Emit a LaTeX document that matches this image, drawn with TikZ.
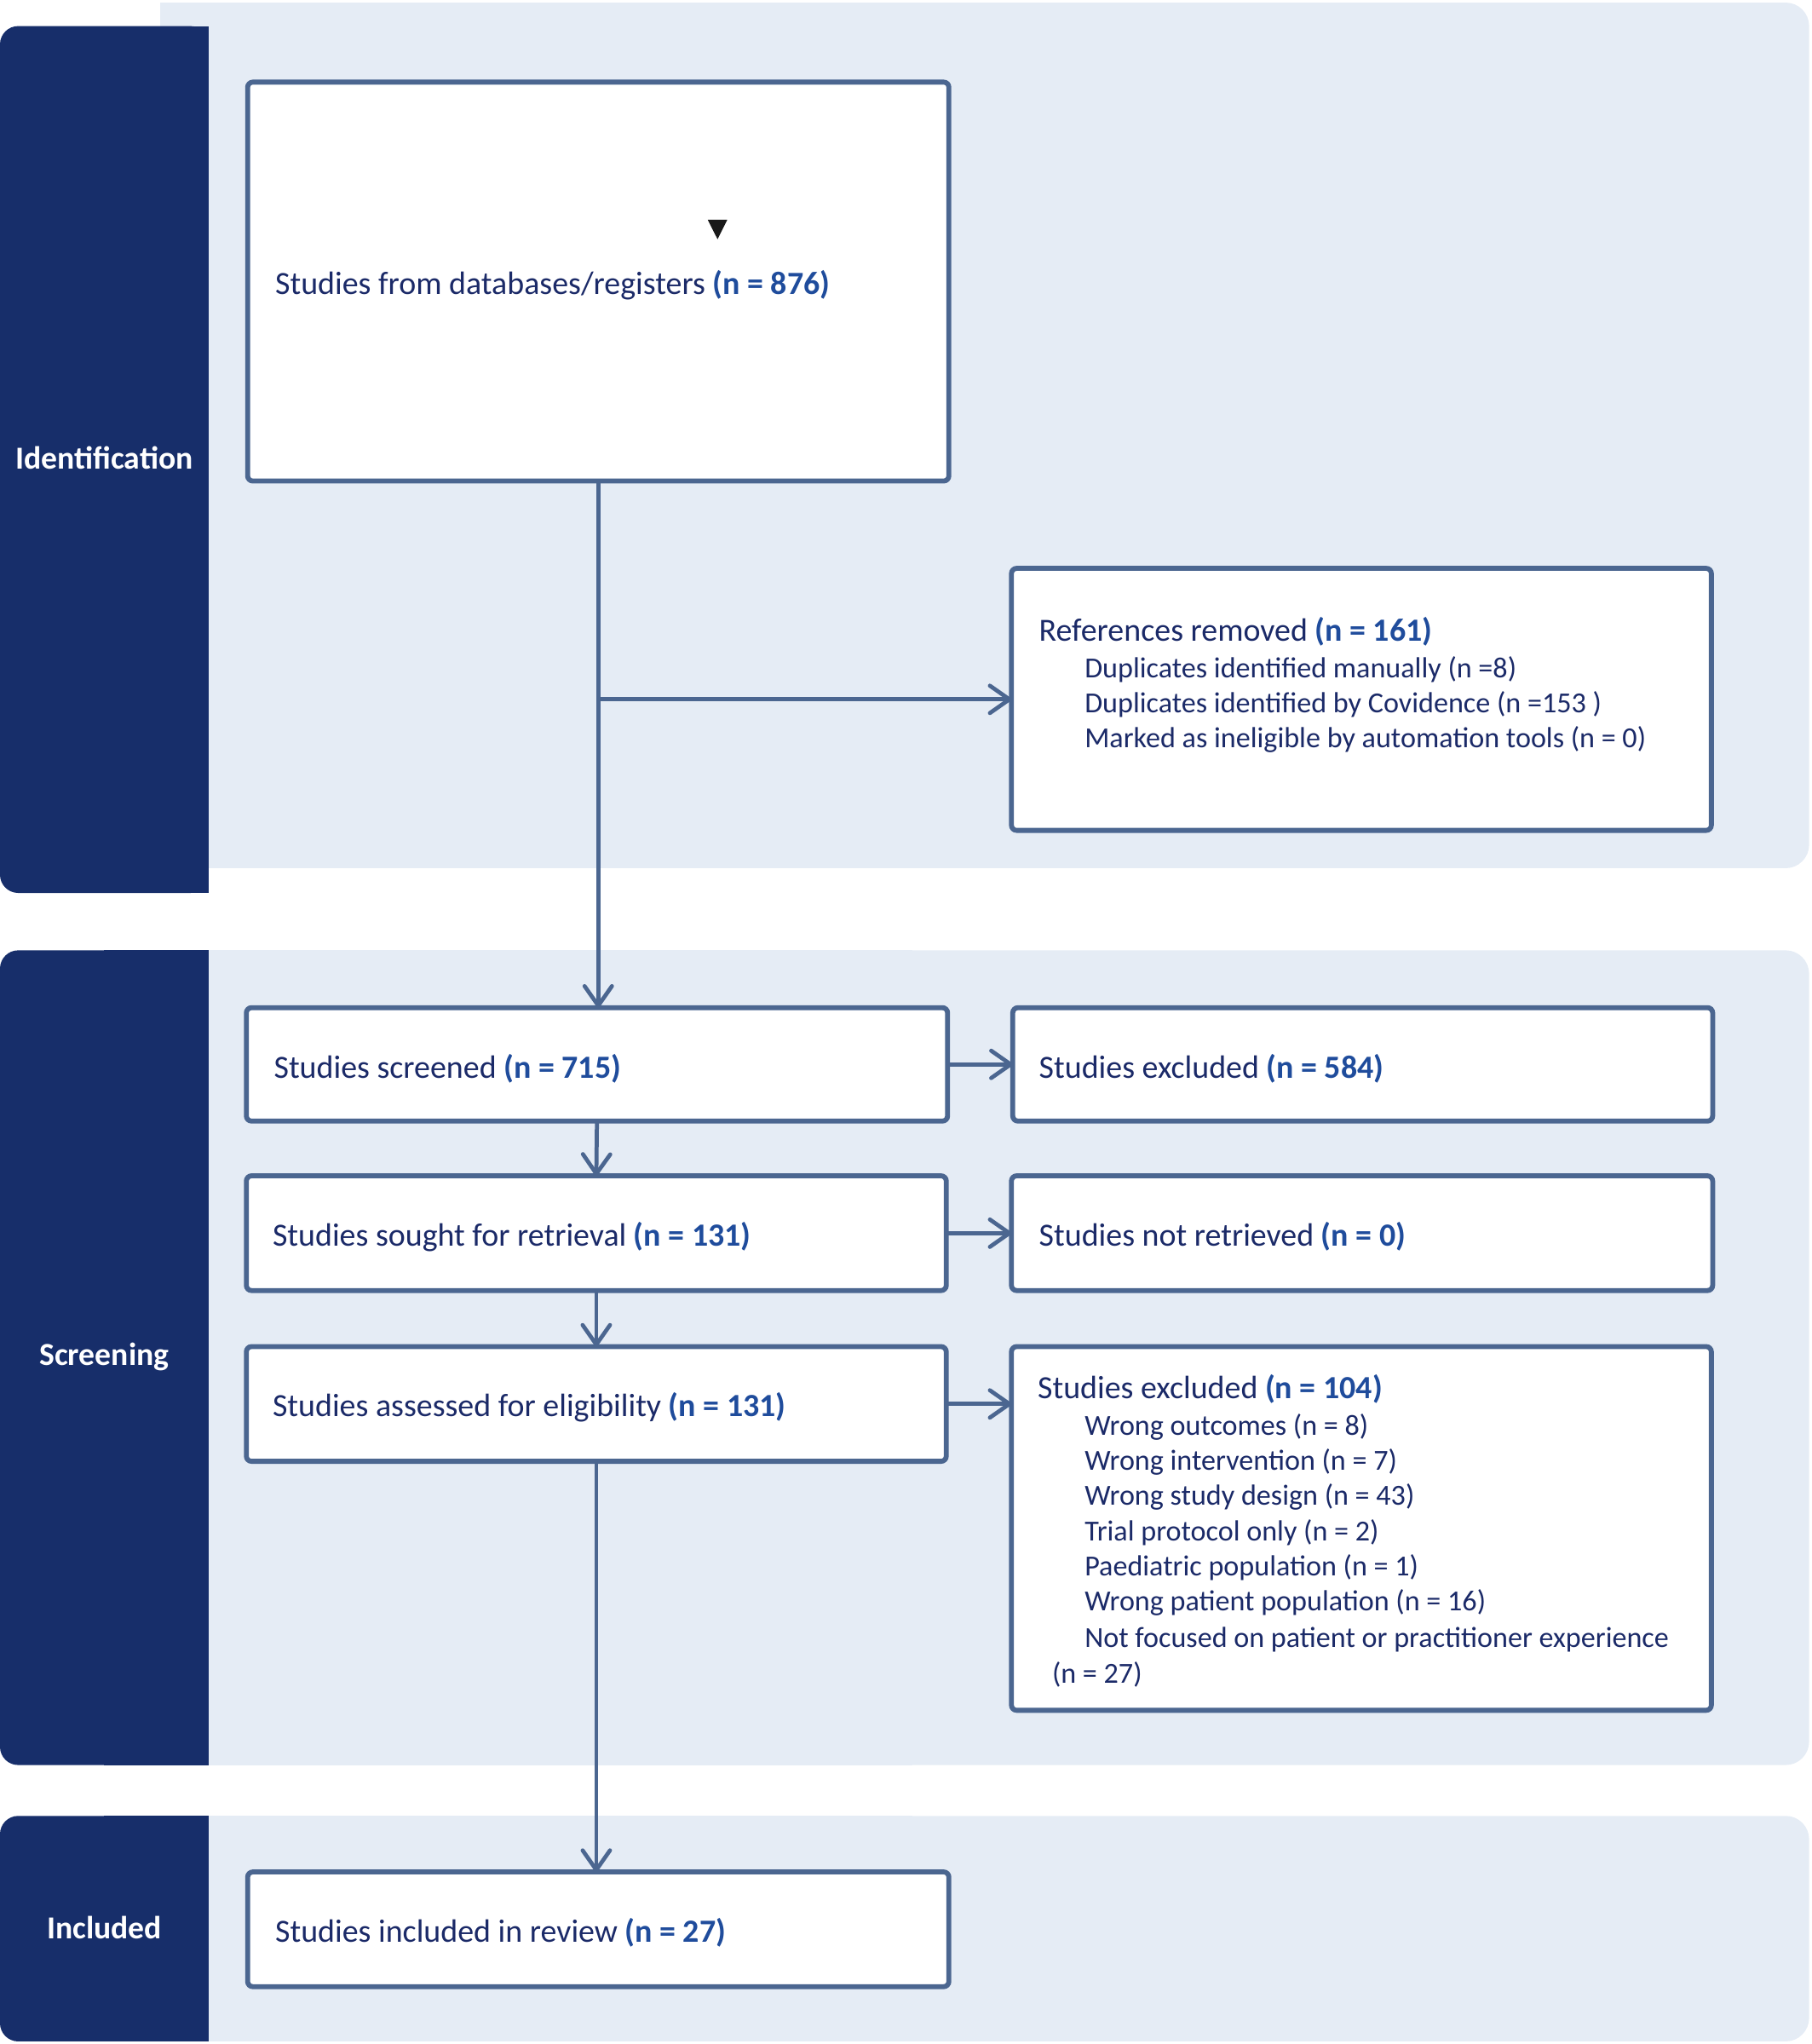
\documentclass[tikz,border=0pt]{standalone}
\usepackage{fontspec}
\setmainfont{Carlito}
\usetikzlibrary{arrows.meta}
\definecolor{navy}{HTML}{172E6A}
\definecolor{bandbg}{HTML}{E5ECF5}
\definecolor{edgec}{HTML}{4B6690}
\definecolor{txtc}{HTML}{1B2A68}
\definecolor{numc}{HTML}{1F4C9C}
\newcommand{\numtxt}[1]{\textbf{\textcolor{numc}{#1}}}
\begin{document}
\begin{tikzpicture}[x=1pt,y=-1pt,
  flowbox/.style={draw=edgec, line width=3.8pt, fill=white, rounded corners=4pt, inner sep=0pt, outer sep=0pt, anchor=north west},
  txt/.style={text=txtc, font=\fontsize{24.8}{29.5}\selectfont, inner sep=0pt, anchor=west, yshift=-1.5pt},
  subtxt/.style={txt, font=\fontsize{22.3}{27}\selectfont},
  sidelab/.style={text=white, font=\fontsize{24.6}{29.5}\selectfont\bfseries, inner sep=0pt},
  arr/.style={draw=edgec, line width=3.1pt, -{Straight Barb[length=15pt,width=21pt,round]}},
  ]
\useasboundingbox (0,0) rectangle (1390,1568);
% bands
\fill[bandbg, rounded corners=18pt] (123,2) rectangle (1388,666);
\fill[bandbg] (123,2) rectangle (700,666);
\fill[navy, rounded corners=14pt] (0,20) rectangle (160,685);
\fill[navy] (80,20) rectangle (160,685);

\fill[bandbg, rounded corners=18pt] (160,729) rectangle (1388,1354);
\fill[bandbg] (160,729) rectangle (700,1354);
\fill[navy, rounded corners=14pt] (0,729) rectangle (160,1354);
\fill[navy] (80,729) rectangle (160,1354);

\fill[bandbg, rounded corners=18pt] (160,1393) rectangle (1388,1566);
\fill[bandbg] (160,1393) rectangle (700,1566);
\fill[navy, rounded corners=14pt] (0,1393) rectangle (160,1566);
\fill[navy] (80,1393) rectangle (160,1566);

\node[sidelab] (lid) at (80,351) {Identification};
\node[sidelab] (lsc) at (80,1041) {Screening};
\node[sidelab] (lin) at (80,1479) {Included};

% boxes
\node[flowbox, minimum width=538pt, minimum height=306pt] (A) at (190,63) {};
\node[flowbox, minimum width=537pt, minimum height=201pt] (B) at (776,436) {};
\node[flowbox, minimum width=538pt, minimum height=87pt] (C) at (189,773) {};
\node[flowbox, minimum width=537pt, minimum height=87pt] (D) at (777,773) {};
\node[flowbox, minimum width=537pt, minimum height=88pt] (E) at (189,902) {};
\node[flowbox, minimum width=538pt, minimum height=88pt] (F) at (776,902) {};
\node[flowbox, minimum width=537pt, minimum height=88pt] (G) at (189,1033) {};
\node[flowbox, minimum width=537pt, minimum height=279pt] (H) at (776,1033) {};
\node[flowbox, minimum width=538pt, minimum height=88pt] (I) at (190,1436) {};

% small marker triangle
\fill[black!90] (543,168.6) -- (558,168.6) -- (550.5,183.5) -- cycle;

% texts
\node[txt] (At) at (211,217) {Studies from databases/registers \numtxt{(n = 876)}};
\node[txt] (B1) at (797,483) {References removed \numtxt{(n = 161)}};
\node[subtxt] (B2) at (832,512) {Duplicates identified manually (n =8)};
\node[subtxt] (B3) at (832,539) {Duplicates identified by Covidence (n =153 )};
\node[subtxt] (B4) at (832,566) {Marked as ineligible by automation tools (n = 0)};
\node[txt] (Ct) at (210,818) {Studies screened \numtxt{(n = 715)}};
\node[txt] (Dt) at (797,818) {Studies excluded \numtxt{(n = 584)}};
\node[txt] (Et) at (209,947) {Studies sought for retrieval \numtxt{(n = 131)}};
\node[txt] (Ft) at (797,947) {Studies not retrieved \numtxt{(n = 0)}};
\node[txt] (Gt) at (209,1078) {Studies assessed for eligibility \numtxt{(n = 131)}};
\node[txt] (H1) at (796,1064) {Studies excluded \numtxt{(n = 104)}};
\node[subtxt] (H2) at (832,1093) {Wrong outcomes (n = 8)};
\node[subtxt] (H3) at (832,1120) {Wrong intervention (n = 7)};
\node[subtxt] (H4) at (832,1147) {Wrong study design (n = 43)};
\node[subtxt] (H5) at (832,1174) {Trial protocol only (n = 2)};
\node[subtxt] (H6) at (832,1201) {Paediatric population (n = 1)};
\node[subtxt] (H7) at (832,1228) {Wrong patient population (n = 16)};
\node[subtxt] (H8) at (832,1256) {Not focused on patient or practitioner experience};
\node[subtxt] (H9) at (807,1283) {(n = 27)};
\node[txt] (It) at (211,1481) {Studies included in review \numtxt{(n = 27)}};

% connectors
\coordinate (br) at (A.south |- B.west);
\draw[arr] (A.south) -- (A.south |- C.north);
\draw[arr] (br) -- (B.west);
\draw[arr] (C.east) -- (D.west);
\draw[arr] (C.south) -- (E.north);
\draw[arr] (E.east) -- (F.west);
\draw[arr] (E.south) -- (G.north);
\draw[arr] (G.east) -- (G.east -| H.west);
\draw[arr] (G.south) -- (G.south |- I.north);
\end{tikzpicture}
\end{document}
